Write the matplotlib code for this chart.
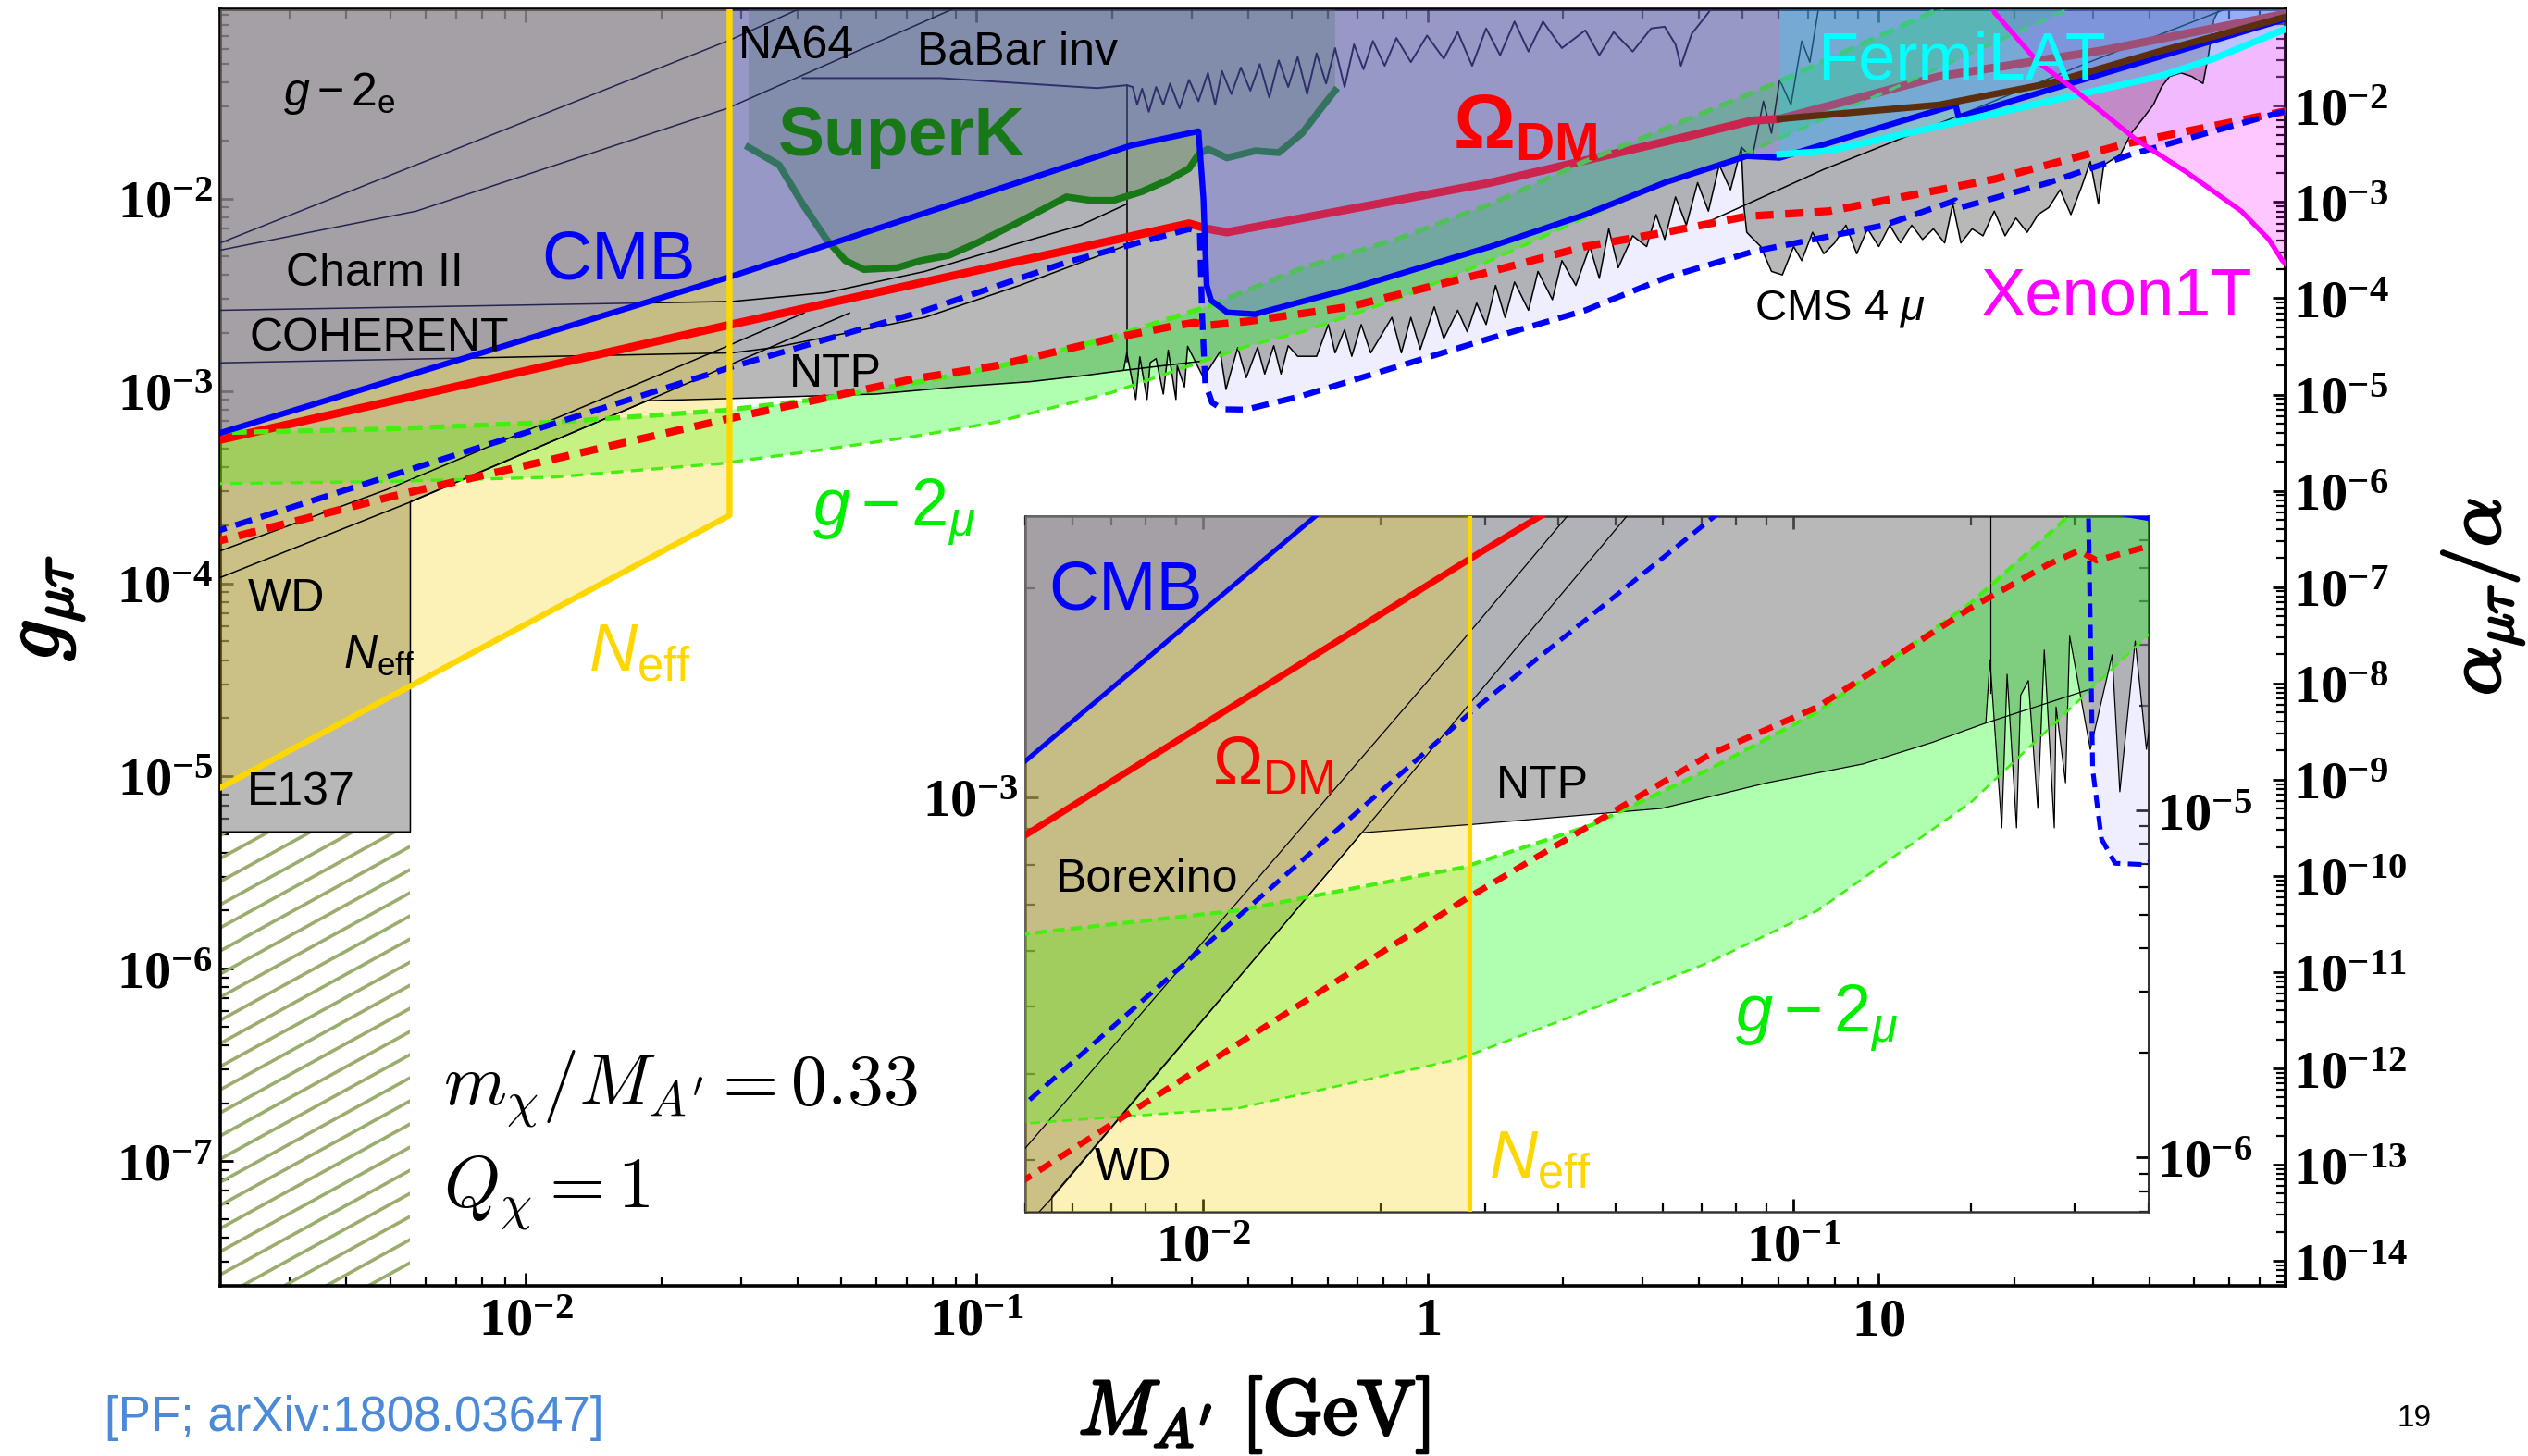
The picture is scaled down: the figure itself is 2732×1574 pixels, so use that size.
import numpy as np
import matplotlib
matplotlib.use("Agg")
import matplotlib.pyplot as plt
from matplotlib import patheffects as pe
from matplotlib.ticker import LogLocator, FuncFormatter, NullFormatter

plt.rcParams.update({
    "font.family": ["Liberation Sans", "DejaVu Sans"],
    "mathtext.fontset": "custom",
    "mathtext.rm": "Liberation Sans",
    "mathtext.it": "Liberation Sans:italic",
    "mathtext.bf": "Liberation Serif:bold",
    "mathtext.sf": "Liberation Sans:bold",
})

# axis ranges: M_A' in GeV, g_mu_tau
XLIM = (2.1e-3, 80.0)
YLIM = (2.25e-8, 0.096)
IN_XLIM = (5.0e-3, 0.40)
IN_YLIM = (2.53e-4, 2.54e-3)
ALPHA_EM = 1 / 137.036

# ---- curves, as (log10 M_A'/GeV, log10 g) ----
cmb = [(-2.70, -3.234), (-1.543, -2.404), (-1.114, -2.075), (-0.659, -1.726), (-0.508, -1.651),
       (-0.497, -2.00), (-0.490, -2.45), (-0.480, -2.53), (-0.444, -2.592), (-0.383, -2.601),
       (-0.174, -2.471), (0.140, -2.250), (0.350, -2.084), (0.526, -1.918), (0.708, -1.780),
       (0.781, -1.789), (1.171, -1.514), (1.178, -1.577), (1.897, -1.072), (1.95, -1.035)]
omega = [(-2.70, -3.265), (-1.543, -2.654), (-1.114, -2.433), (-0.529, -2.130), (-0.487, -2.158),
         (-0.445, -2.176), (-0.278, -2.102), (0.140, -1.918), (0.526, -1.706), (0.720, -1.596),
         (0.781, -1.587), (1.135, -1.366), (1.500, -1.230), (1.896, -1.044), (1.95, -1.016)]
cmb_dash = [(-2.70, -3.739), (-2.301, -3.441), (-1.543, -2.875), (-1.114, -2.582), (-0.801, -2.332),
            (-0.643, -2.231), (-0.528, -2.159), (-0.505, -2.175), (-0.500, -2.60), (-0.493, -2.96),
            (-0.478, -3.06), (-0.455, -3.095), (-0.403, -3.097), (-0.278, -3.025), (-0.069, -2.875),
            (0.140, -2.726), (0.349, -2.582), (0.525, -2.415), (0.720, -2.277), (1.013, -2.139),
            (1.171, -2.010), (1.183, -2.047), (1.378, -1.918), (1.561, -1.771), (1.896, -1.550),
            (1.95, -1.515)]
omega_dash = [(-2.70, -3.79), (-2.301, -3.55), (-1.560, -3.149), (-1.141, -2.938), (-0.959, -2.870),
              (-0.699, -2.727), (-0.569, -2.665), (-0.517, -2.645), (-0.486, -2.659), (-0.401, -2.639),
              (-0.174, -2.563), (0.140, -2.380), (0.349, -2.250), (0.525, -2.177), (0.708, -2.093),
              (0.891, -2.066), (1.257, -1.900), (1.549, -1.716), (1.896, -1.550), (1.95, -1.524)]
g2_up = [(-2.70, -3.218), (-2.306, -3.197), (-1.942, -3.163), (-1.560, -3.101), (-1.342, -3.040),
         (-1.141, -2.959), (-0.959, -2.877), (-0.699, -2.720), (-0.487, -2.560), (-0.278, -2.361),
         (-0.069, -2.212), (0.140, -2.029), (0.349, -1.808), (0.525, -1.639), (0.769, -1.404),
         (1.135, -1.016), (1.25, -0.89)]
g2_low = [(-2.70, -3.482), (-2.306, -3.470), (-1.942, -3.448), (-1.567, -3.377), (-1.342, -3.305),
          (-1.141, -3.237), (-0.959, -3.163), (-0.699, -3.007), (-0.401, -2.768), (-0.278, -2.693),
          (-0.069, -2.524), (0.140, -2.322), (0.349, -2.101), (0.525, -1.918), (0.646, -1.827),
          (1.038, -1.423), (1.428, -1.009), (1.55, -0.86)]
neff = [(-2.80, -5.214), (-1.548, -3.646)]
superk = [(-1.506, -1.734), (-1.438, -1.826), (-1.386, -2.029), (-1.333, -2.213), (-1.291, -2.323),
          (-1.250, -2.369), (-1.176, -2.360), (-1.124, -2.323), (-1.062, -2.296), (-0.999, -2.231),
          (-0.905, -2.121), (-0.801, -1.992), (-0.748, -2.010), (-0.696, -2.010), (-0.633, -1.964),
          (-0.571, -1.900), (-0.529, -1.845), (-0.508, -1.771), (-0.487, -1.743), (-0.445, -1.789),
          (-0.382, -1.753), (-0.330, -1.762), (-0.278, -1.661), (-0.236, -1.532), (-0.205, -1.440)]
fermi = [(0.781, -1.771), (0.891, -1.753), (1.135, -1.624), (1.378, -1.495), (1.622, -1.366),
         (1.744, -1.274), (1.896, -1.127), (1.95, -1.075)]
brown = [(0.781, -1.587), (1.135, -1.514), (1.378, -1.403), (1.622, -1.237), (1.896, -1.062), (1.95, -1.028)]
xenon = [(1.24, -0.95), (1.258, -1.035), (1.354, -1.292), (1.427, -1.421), (1.573, -1.697),
         (1.683, -1.863), (1.805, -2.066), (1.866, -2.213), (1.896, -2.323), (1.95, -2.45)]

# lower edge of the grey excluded area: E137 box, WD, NTP, then the CMS-type spiky limits
ntp_edge = [(-2.80, -5.29), (-2.256, -5.29), (-2.256, -3.575), (-1.731, -3.051), (-1.543, -3.039),
            (-1.223, -3.016), (-1.044, -2.979), (-0.882, -2.952), (-0.765, -2.921), (-0.674, -2.893)]
j1 = [(-0.667, -2.802), (-0.647, -3.044), (-0.638, -2.823), (-0.622, -3.044), (-0.615, -2.853),
      (-0.602, -2.832), (-0.586, -3.016), (-0.575, -2.788), (-0.558, -3.044), (-0.555, -2.870),
      (-0.539, -2.979), (-0.532, -2.768), (-0.497, -2.931), (-0.460, -2.795), (-0.447, -2.992),
      (-0.421, -2.775), (-0.402, -2.931), (-0.377, -2.774), (-0.361, -2.912), (-0.341, -2.765),
      (-0.325, -2.912), (-0.309, -2.765), (-0.288, -2.820), (-0.246, -2.820), (-0.220, -2.655),
      (-0.205, -2.802), (-0.184, -2.682), (-0.168, -2.820), (-0.147, -2.655), (-0.126, -2.802),
      (-0.079, -2.618), (-0.058, -2.802), (-0.037, -2.618), (-0.016, -2.784), (0.015, -2.563),
      (0.036, -2.728), (0.067, -2.581), (0.088, -2.692), (0.109, -2.544), (0.130, -2.655),
      (0.151, -2.452), (0.172, -2.618), (0.193, -2.434), (0.224, -2.581), (0.245, -2.379),
      (0.277, -2.526), (0.298, -2.323), (0.329, -2.452), (0.360, -2.250), (0.381, -2.415),
      (0.402, -2.158), (0.423, -2.360), (0.455, -2.194), (0.486, -2.250), (0.507, -2.084),
      (0.526, -2.213), (0.550, -1.992), (0.574, -2.139), (0.599, -1.918), (0.623, -2.066),
      (0.647, -1.826), (0.672, -1.955), (0.696, -1.734)]
j1_top = [(0.696, -1.734), (0.720, -1.789), (0.745, -1.495), (0.763, -1.661), (0.781, -1.384),
          (0.806, -1.513), (0.830, -1.182), (0.848, -1.292), (0.867, -1.016), (0.891, -0.95)]
j2 = [(0.702, -2.047), (0.708, -2.176), (0.739, -2.250), (0.763, -2.379), (0.787, -2.397),
      (0.812, -2.250), (0.830, -2.323), (0.854, -2.176), (0.879, -2.287), (0.903, -2.231),
      (0.928, -2.139), (0.952, -2.287), (0.976, -2.158), (1.001, -2.250), (1.025, -2.139),
      (1.049, -2.231), (1.074, -2.139), (1.098, -2.213), (1.122, -2.158), (1.147, -2.231),
      (1.165, -2.029), (1.183, -2.231), (1.208, -2.158), (1.232, -2.194), (1.257, -2.066),
      (1.281, -2.194), (1.305, -2.102), (1.330, -2.176), (1.354, -2.084), (1.378, -2.047),
      (1.403, -1.955), (1.427, -2.084), (1.451, -1.937), (1.470, -1.808), (1.488, -2.029),
      (1.500, -1.826), (1.537, -1.771), (1.561, -1.661), (1.586, -1.587), (1.610, -1.513),
      (1.628, -1.421), (1.646, -1.366), (1.671, -1.348), (1.695, -1.366), (1.720, -1.403),
      (1.732, -1.256), (1.744, -1.071), (1.756, -1.016), (1.770, -0.95)]
hatch_box = [(-2.80, -9.0), (-2.256, -5.29)]

# thin boundary lines of the other limits
na64 = [(-2.70, -2.252), (-1.543, -1.173), (-1.386, -1.007), (-1.33, -0.95)]
g2e = [(-2.70, -2.279), (-2.243, -2.066), (-1.553, -1.532), (-1.053, -1.016), (-1.00, -0.97)]
charm = [(-2.70, -2.582), (-1.542, -2.535), (-1.333, -2.489), (-1.115, -2.379), (-0.905, -2.231),
         (-0.769, -2.139), (-0.667, -2.029)]
coherent = [(-2.70, -2.855), (-1.542, -2.802), (-1.448, -2.774), (-1.115, -2.618), (-0.905, -2.452),
            (-0.675, -2.250)]
borexino = [(-2.70, -3.85), (-2.306, -3.51), (-1.556, -2.77), (-1.383, -2.595)]
wd = [(-2.70, -3.99), (-2.254, -3.575), (-1.731, -3.051), (-1.556, -2.873), (-1.282, -2.595)]
cms_wall = [(-0.667, -1.412), (-0.667, -2.85)]
ntp_tail = [(-0.674, -2.893), (-0.50, -2.845)]
cms_top = [(0.628, -2.115), (0.878, -1.850), (1.170, -1.577), (1.461, -1.298), (1.778, -1.009), (1.82, -0.96)]
babar = [(-1.386, -1.375), (-1.08, -1.375), (-0.733, -1.427), (-0.667, -1.412), (-0.654, -1.421),
         (-0.644, -1.513), (-0.633, -1.430), (-0.618, -1.550), (-0.602, -1.421), (-0.586, -1.513),
         (-0.571, -1.403), (-0.550, -1.532), (-0.529, -1.384), (-0.508, -1.495), (-0.487, -1.348),
         (-0.471, -1.513), (-0.456, -1.338), (-0.435, -1.458), (-0.414, -1.320), (-0.393, -1.440),
         (-0.372, -1.302), (-0.351, -1.476), (-0.330, -1.283), (-0.309, -1.421), (-0.288, -1.265),
         (-0.267, -1.458), (-0.246, -1.246), (-0.225, -1.403), (-0.205, -1.219), (-0.184, -1.421),
         (-0.163, -1.200), (-0.142, -1.329), (-0.121, -1.182), (-0.095, -1.311), (-0.069, -1.167),
         (-0.037, -1.292), (-0.001, -1.154), (0.036, -1.274), (0.067, -1.136), (0.099, -1.311),
         (0.130, -1.117), (0.161, -1.256), (0.193, -1.081), (0.224, -1.237), (0.256, -1.081),
         (0.298, -1.219), (0.350, -1.127), (0.381, -1.256), (0.413, -1.136), (0.455, -1.237),
         (0.496, -1.117), (0.526, -1.108), (0.550, -1.200), (0.562, -1.311), (0.586, -1.145),
         (0.623, -1.035), (0.647, -0.95)]

main_g_ticks = [1e-7, 1e-6, 1e-5, 1e-4, 1e-3, 1e-2]
main_m_ticks = [1e-2, 1e-1, 1.0, 10.0]
main_a_ticks = [10.0 ** -k for k in range(2, 15)]
in_g_ticks = [1e-3]
in_m_ticks = [1e-2, 1e-1]
in_a_ticks = [1e-6, 1e-5]


def xy(pairs):
    a = np.asarray(pairs, float)
    return 10.0 ** a[:, 0], 10.0 ** a[:, 1]


def up_to_top(pairs, top=1.0):
    m, g = xy(pairs)
    return np.r_[m, m[-1], m[0]], np.r_[g, top, top]


def g_to_a(g):
    return np.asarray(g) ** 2 / (4 * np.pi * ALPHA_EM)


def a_to_g(a):
    return np.sqrt(np.clip(np.asarray(a, float), 1e-300, None) * 4 * np.pi * ALPHA_EM)


def pow_label(v, pos=None):
    e = int(round(np.log10(v)))
    if e == 0:
        return r"$\mathbf{1}$"
    if e == 1:
        return r"$\mathbf{10}$"
    return r"$\mathbf{10^{%d}}$" % e


def draw_physics(ax, w, main=True):
    ax.fill(*up_to_top(cmb_dash), color="#bcbcff", alpha=0.25, lw=0, zorder=1)
    excl = ntp_edge + j1 + j2
    ax.fill(*up_to_top(excl), facecolor="#7f7f7f", alpha=0.55, lw=0, zorder=2)
    (m0, g0), (m1, g1) = 10.0 ** np.asarray(hatch_box)
    box = ax.fill([m0, m1, m1, m0], [g0, g0, g1, g1], facecolor="none", lw=0, zorder=2)[0]
    um, ug = xy(g2_up)
    lm, lg = xy(g2_low)
    ax.fill(np.r_[um, lm[::-1]], np.r_[ug, lg[::-1]], color="#00ff00", alpha=0.31, lw=0, zorder=3)
    ax.fill(*up_to_top(neff), color="#f8d712", alpha=0.30, lw=0, zorder=4)
    ax.fill(*up_to_top(xenon), color="#ff00ff", alpha=0.22, lw=0, zorder=4)
    ax.fill(*up_to_top(superk), color="#437830", alpha=0.30, lw=0, zorder=5)

    thin = dict(color="k", lw=0.55 * w, zorder=6)
    for c in [excl, borexino, wd, cms_wall, ntp_tail, j1_top]:
        ax.plot(*xy(c), **thin)
    if main:
        for c in [na64, g2e, charm, coherent, cms_top]:
            ax.plot(*xy(c), **thin)
        ax.plot(*xy(babar), color="#10102a", lw=0.7, zorder=6)

    ax.plot(*xy(superk), color="#187818", lw=2.7 * w, zorder=7)
    ax.plot(*xy(omega), color="#ff0000", lw=3.2 * w, zorder=7, solid_capstyle="butt")
    ax.plot(*xy(g2_up), color="#44ee11", lw=1.9 * w, ls=(0, (3.0, 1.5)), zorder=7)
    ax.plot(*xy(g2_low), color="#44ee11", lw=1.2 * w, ls=(0, (4.0, 2.5)), zorder=7)

    ax.fill(*up_to_top(cmb), color="#6a6ae4", alpha=0.35, lw=0, zorder=8)
    ax.fill(*up_to_top(fermi), color="#00e8ff", alpha=0.22, lw=0, zorder=9)

    ax.plot(*xy(omega_dash), color="#ff0000", lw=3.0 * w, ls=(0, (2.3, 1.5)), zorder=10)
    ax.plot(*xy(cmb_dash), color="#0000ff", lw=2.3 * w, ls=(0, (2.9, 1.6)), zorder=10)
    ax.plot(*xy(cmb), color="#0000ff", lw=2.3 * w, zorder=11)
    nm, ng = xy(neff)
    ax.plot(np.r_[nm, nm[-1]], np.r_[ng, 1.0], color="#ffd700", lw=2.3 * w, zorder=11)
    ax.plot(*xy(brown), color="#5c2e0e", lw=2.6 * w, zorder=11)
    ax.plot(*xy(fermi), color="#00ffff", lw=2.6 * w, zorder=11)
    ax.plot(*xy(xenon), color="#ff00ff", lw=1.9 * w, zorder=11)
    return box


def slanted_hatch(ax, patch, gap=25, slope=0.55, color="#9aad6c", lw=1.3):
    # shallow diagonal hatching of the region below the E137 box (drawn in pixel space)
    (m0, g0), (m1, g1) = 10.0 ** np.asarray(hatch_box)
    g0 = max(g0, ax.get_ylim()[0])
    (x0, y0), (x1, y1) = ax.transData.transform([(m0, g0), (m1, g1)])
    to_axes = ax.transAxes.inverted()
    rise = slope * (x1 - x0)
    for c in np.arange(y0 - rise, y1 + gap, gap):
        p = to_axes.transform([(x0, c), (x1, c + rise)])
        ln, = ax.plot(p[:, 0], p[:, 1], transform=ax.transAxes, color=color, lw=lw, zorder=2)
        ln.set_clip_path(patch)


def style_axes(ax, xlim, ylim, mticks, gticks, aticks, lsize, spine_w):
    ax.set_xscale("log")
    ax.set_yscale("log")
    ax.set_xlim(*xlim)
    ax.set_ylim(*ylim)
    ax.set_xticks(mticks)
    ax.set_yticks(gticks)
    for axis in (ax.xaxis, ax.yaxis):
        axis.set_major_formatter(FuncFormatter(pow_label))
        axis.set_minor_locator(LogLocator(base=10, subs=np.arange(2, 10), numticks=200))
        axis.set_minor_formatter(NullFormatter())
    ax.tick_params(which="both", direction="in", top=True, right=False, labelsize=lsize)
    ax.tick_params(axis="y", pad=3)
    ax.tick_params(axis="x", pad=4)
    ax.tick_params(which="major", length=5, width=1)
    ax.tick_params(which="minor", length=3.5, width=0.8)
    for s in ax.spines.values():
        s.set_linewidth(spine_w)
    sec = ax.secondary_yaxis("right", functions=(g_to_a, a_to_g))
    sec.set_ticks(aticks)
    sec.yaxis.set_major_formatter(FuncFormatter(pow_label))
    sec.yaxis.set_minor_locator(LogLocator(base=10, subs=np.arange(2, 10), numticks=400))
    sec.yaxis.set_minor_formatter(NullFormatter())
    sec.tick_params(which="both", direction="in", labelsize=lsize, pad=3)
    sec.tick_params(which="major", length=5, width=1)
    sec.tick_params(which="minor", length=3.5, width=0.8)
    sec.spines["right"].set_linewidth(spine_w)
    return sec


fig = plt.figure(figsize=(13.66, 7.87), dpi=200)
ax = fig.add_axes([0.0871, 0.1169, 0.8170, 0.8767])
box = draw_physics(ax, 1.0, main=True)
style_axes(ax, XLIM, YLIM, main_m_ticks, main_g_ticks, main_a_ticks, 21, 1.3)
slanted_hatch(ax, box)

LBL = 18
BIG = 27
T = dict(transform=ax.transAxes, ha="center", va="center", zorder=20)
ax.text(0.058, 0.934, r"$g-2_{\mathrm{e}}$", size=LBL, **T)
ax.text(0.279, 0.971, "NA64", size=LBL, **T)
ax.text(0.386, 0.966, "BaBar inv", size=LBL, **T)
ax.text(0.330, 0.900, "SuperK", size=BIG, color="#187818", weight="bold", **T)
ax.text(0.632, 0.907, r"$\mathsf{\Omega_{DM}}$", size=30, color="#ff0000", **T)
ax.text(0.843, 0.959, "FermiLAT", size=26, color="#00ffff", **T)
ax.text(0.193, 0.803, "CMB", size=BIG, color="#0000ff", **T)
ax.text(0.075, 0.793, "Charm II", size=LBL, **T)
ax.text(0.077, 0.742, "COHERENT", size=LBL, **T)
ax.text(0.298, 0.714, "NTP", size=LBL, **T)
ax.text(0.784, 0.765, r"CMS 4 $\mu$", size=17, **T)
ax.text(0.918, 0.774, "Xenon1T", size=26, color="#ff00ff", **T)
ax.text(0.326, 0.606, r"$g-2_{\mu}$", size=26, color="#00ee00", **T)
ax.text(0.032, 0.538, "WD", size=LBL, **T)
ax.text(0.077, 0.493, r"$N_{\mathrm{eff}}$", size=LBL, **T)
ax.text(0.203, 0.495, r"$N_{\mathrm{eff}}$", size=26, color="#ffd700", **T)
ax.text(0.039, 0.386, "E137", size=LBL, **T)
ax.text(0.108, 0.154, r"$m_\chi/M_{A^\prime} = 0.33$", size=28, ha="left", va="center",
        transform=ax.transAxes, math_fontfamily="cm", zorder=20)
ax.text(0.108, 0.073, r"$Q_\chi = 1$", size=28, ha="left", va="center",
        transform=ax.transAxes, math_fontfamily="cm", zorder=20)

# zoomed inset
axi = fig.add_axes([0.4056, 0.1677, 0.4444, 0.4778])
axi.set_facecolor("white")
draw_physics(axi, 0.8, main=False)
style_axes(axi, IN_XLIM, IN_YLIM, in_m_ticks, in_g_ticks, in_a_ticks, 21, 0.9)
for s in axi.spines.values():
    s.set_color("#333333")
TI = dict(transform=axi.transAxes, ha="center", va="center", zorder=20)
axi.text(0.089, 0.892, "CMB", size=BIG, color="#0000ff", **TI)
axi.text(0.220, 0.640, r"$\Omega_{\mathrm{DM}}$", size=26, color="#ff0000", **TI)
axi.text(0.460, 0.612, "NTP", size=LBL, **TI)
axi.text(0.108, 0.477, "Borexino", size=LBL, **TI)
axi.text(0.096, 0.062, "WD", size=LBL, **TI)
axi.text(0.458, 0.074, r"$N_{\mathrm{eff}}$", size=26, color="#ffd700", **TI)
axi.text(0.704, 0.278, r"$g-2_{\mu}$", size=26, color="#00ee00", **TI)

bold = [pe.withStroke(linewidth=1.1, foreground="black")]
fig.text(0.496, 0.028, r"$M_{A^\prime}\ [\mathrm{GeV}]$", size=30, ha="center", va="center",
         math_fontfamily="cm", path_effects=bold)
fig.text(0.019, 0.582, r"$g_{\mu\tau}$", size=32, rotation=90, ha="center", va="center",
         math_fontfamily="cm", path_effects=bold)
fig.text(0.982, 0.590, r"$\alpha_{\mu\tau}/\alpha$", size=30, rotation=90, ha="center", va="center",
         math_fontfamily="cm", path_effects=bold)
fig.text(0.0414, 0.026, "[PF; arXiv:1808.03647]", size=19, color="#4a8ad8", ha="left", va="center")
fig.text(0.955, 0.026, "19", size=12, ha="center", va="center")

fig.savefig("out.png", dpi=200)
